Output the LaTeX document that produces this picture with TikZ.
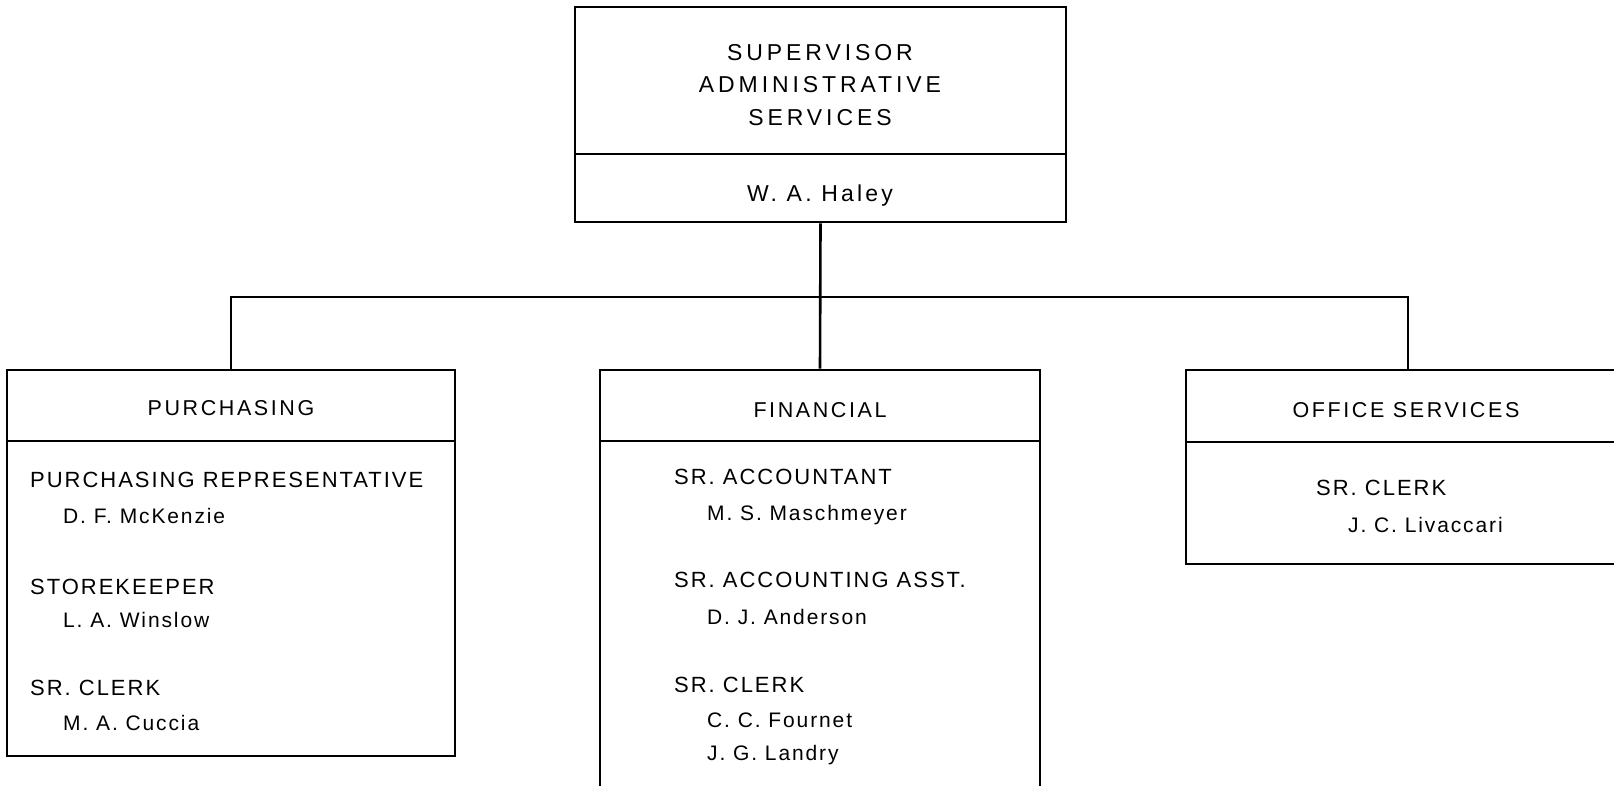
\documentclass[tikz,border=0pt]{standalone}
\usepackage{fontspec}
\setmainfont{Liberation Sans}
\newfontfamily\supfont[LetterSpace=17]{Liberation Sans}
\newfontfamily\bossfont[LetterSpace=14]{Liberation Sans}
\newfontfamily\headfont[LetterSpace=12]{Liberation Sans}
\newfontfamily\rolefont[LetterSpace=9]{Liberation Sans}
\newfontfamily\namefont[LetterSpace=9]{Liberation Sans}
\begin{document}
\begin{tikzpicture}[x=1pt,y=-1pt,
  box/.style={draw=black, line width=2.8pt, rectangle, inner sep=0pt},
  rule/.style={line width=2.4pt},
  link/.style={line width=2.6pt},
  suptxt/.style={inner sep=0pt, text height=16.5pt, text depth=0pt, font=\supfont\fontsize{23}{28}\selectfont},
  bosstxt/.style={inner sep=0pt, text height=16.5pt, text depth=0pt, font=\bossfont\fontsize{23}{28}\selectfont},
  headtxt/.style={inner sep=0pt, text height=15.4pt, text depth=0pt, font=\headfont\fontsize{21.5}{26}\selectfont},
  roletxt/.style={anchor=west, inner sep=0pt, text height=15.7pt, text depth=0pt, font=\rolefont\fontsize{22}{26}\selectfont},
  nametxt/.style={anchor=west, inner sep=0pt, text height=15pt, text depth=0pt, font=\namefont\fontsize{21}{25}\selectfont}
]
\useasboundingbox (0,0) rectangle (1614,785);
\clip (0,0) rectangle (1614,785);

% boxes
\node[box, minimum width=491pt, minimum height=215pt] (sup) at (820.5,114.5) {};
\node[box, minimum width=448pt, minimum height=386pt] (pur) at (231,563) {};
\node[box, minimum width=440pt, minimum height=440pt] (fin) at (820,590) {};
\node[box, minimum width=444pt, minimum height=194pt] (off) at (1408,467) {};

% dividers
\draw[rule] (sup.west |- 0,154) -- (sup.east |- 0,154);
\draw[rule] (pur.west |- 0,441) -- (pur.east |- 0,441);
\draw[rule] (fin.west |- 0,441) -- (fin.east |- 0,441);
\draw[rule] (off.west |- 0,442) -- (off.east |- 0,442);

% connectors
\coordinate (busL) at (231,297);
\coordinate (busR) at (1408,297);
\draw[link] (pur.north) -- (busL) -- (busR) -- (off.north);
\draw[link] (sup.south) -- (fin.north);

% top box text
\node[suptxt] (s1) at (820,52) {SUPERVISOR};
\node[suptxt] (s2) at (820,84) {ADMINISTRATIVE};
\node[suptxt] (s3) at (820,117) {SERVICES};
\node[bosstxt] (s4) at (820,193) {W. A. Haley};

% purchasing
\node[headtxt] (ph) at (231,408) {PURCHASING};
\node[roletxt] (pr1) at (30,480) {PURCHASING REPRESENTATIVE};
\node[nametxt] (pn1) at (63,516) {D. F. McKenzie};
\node[roletxt] (pr2) at (30,587) {STOREKEEPER};
\node[nametxt] (pn2) at (63,620) {L. A. Winslow};
\node[roletxt] (pr3) at (30,688) {SR. CLERK};
\node[nametxt] (pn3) at (63,723) {M. A. Cuccia};

% financial
\node[headtxt] (fh) at (820,410) {FINANCIAL};
\node[roletxt] (fr1) at (674,477) {SR. ACCOUNTANT};
\node[nametxt] (fn1) at (707,513) {M. S. Maschmeyer};
\node[roletxt] (fr2) at (674,580) {SR. ACCOUNTING ASST.};
\node[nametxt] (fn2) at (707,617) {D. J. Anderson};
\node[roletxt] (fr3) at (674,685) {SR. CLERK};
\node[nametxt] (fn3) at (707,720) {C. C. Fournet};
\node[nametxt] (fn4) at (707,753) {J. G. Landry};

% office services
\node[headtxt] (oh) at (1406,410) {OFFICE SERVICES};
\node[roletxt] (or1) at (1316,488) {SR. CLERK};
\node[nametxt] (on1) at (1348,525) {J. C. Livaccari};
\end{tikzpicture}
\end{document}
